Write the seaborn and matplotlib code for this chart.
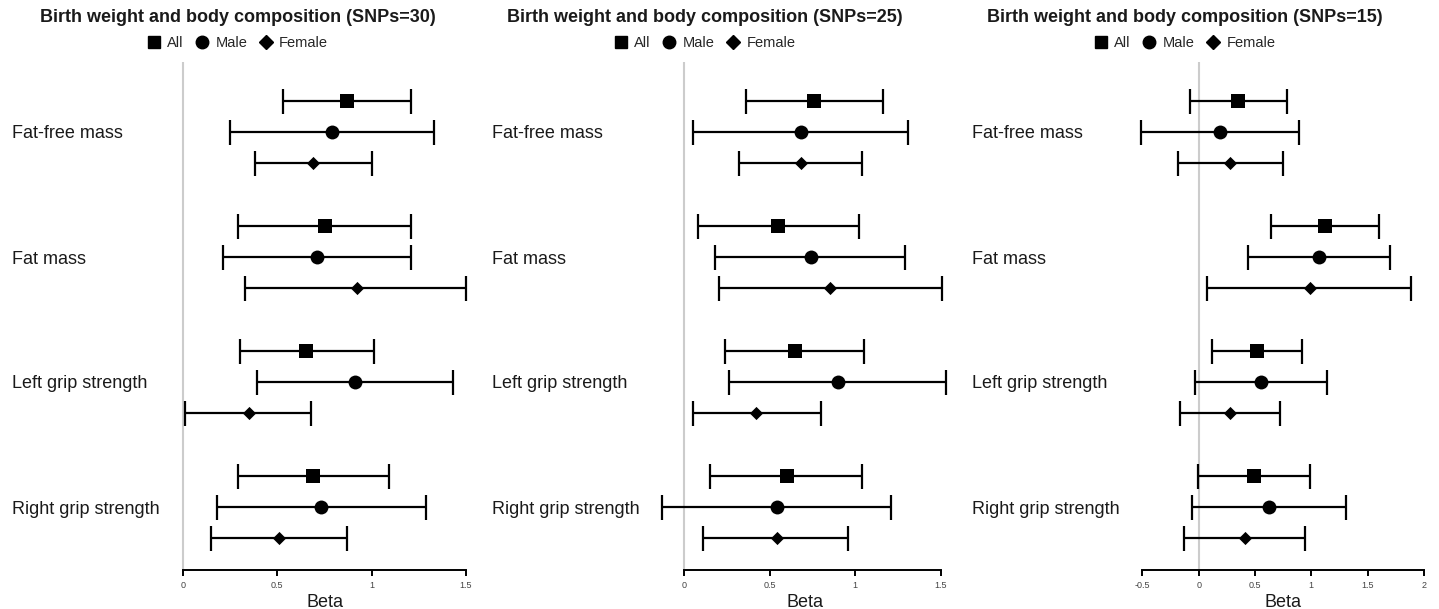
import numpy as np
import pandas as pd
import matplotlib
matplotlib.use("Agg")
import matplotlib.pyplot as plt
from matplotlib.lines import Line2D
import seaborn as sns

sns.set_theme(style="white")
plt.rcParams['font.family'] = ['Liberation Sans', 'DejaVu Sans']

categories = ["Fat-free mass", "Fat mass", "Left grip strength", "Right grip strength"]
groups = ["All", "Male", "Female"]
titles = ["Birth weight and body composition (SNPs=30)",
          "Birth weight and body composition (SNPs=25)",
          "Birth weight and body composition (SNPs=15)"]

# Panel 1 (SNPs=30)
p1_est_all = [0.87, 0.75, 0.65, 0.69]
p1_est_male = [0.79, 0.71, 0.91, 0.73]
p1_est_female = [0.69, 0.92, 0.35, 0.51]
p1_lo_all = [0.53, 0.29, 0.30, 0.29]
p1_lo_male = [0.25, 0.21, 0.39, 0.18]
p1_lo_female = [0.38, 0.33, 0.01, 0.15]
p1_hi_all = [1.21, 1.21, 1.01, 1.09]
p1_hi_male = [1.33, 1.21, 1.43, 1.29]
p1_hi_female = [1.00, 1.50, 0.68, 0.87]

# Panel 2 (SNPs=25)
p2_est_all = [0.76, 0.55, 0.65, 0.60]
p2_est_male = [0.68, 0.74, 0.90, 0.54]
p2_est_female = [0.68, 0.85, 0.42, 0.54]
p2_lo_all = [0.36, 0.08, 0.24, 0.15]
p2_lo_male = [0.05, 0.18, 0.26, -0.13]
p2_lo_female = [0.32, 0.20, 0.05, 0.11]
p2_hi_all = [1.16, 1.02, 1.05, 1.04]
p2_hi_male = [1.31, 1.29, 1.53, 1.21]
p2_hi_female = [1.04, 1.51, 0.80, 0.96]

# Panel 3 (SNPs=15)
p3_est_all = [0.35, 1.12, 0.52, 0.49]
p3_est_male = [0.19, 1.07, 0.55, 0.62]
p3_est_female = [0.28, 0.99, 0.28, 0.41]
p3_lo_all = [-0.08, 0.64, 0.12, -0.01]
p3_lo_male = [-0.51, 0.44, -0.03, -0.06]
p3_lo_female = [-0.18, 0.07, -0.17, -0.13]
p3_hi_all = [0.78, 1.60, 0.92, 0.99]
p3_hi_male = [0.89, 1.70, 1.14, 1.31]
p3_hi_female = [0.75, 1.89, 0.72, 0.94]

p1_ticks = [0, 0.5, 1, 1.5]
p2_ticks = [0, 0.5, 1, 1.5]
p3_ticks = [-0.5, 0, 0.5, 1, 1.5, 2]
tick_labels = {0: "0", 0.5: "0.5", 1: "1", 1.5: "1.5", -0.5: "-0.5", 2: "2"}

panels = [
    dict(est=[p1_est_all, p1_est_male, p1_est_female],
         lo=[p1_lo_all, p1_lo_male, p1_lo_female],
         hi=[p1_hi_all, p1_hi_male, p1_hi_female], ticks=p1_ticks),
    dict(est=[p2_est_all, p2_est_male, p2_est_female],
         lo=[p2_lo_all, p2_lo_male, p2_lo_female],
         hi=[p2_hi_all, p2_hi_male, p2_hi_female], ticks=p2_ticks),
    dict(est=[p3_est_all, p3_est_male, p3_est_female],
         lo=[p3_lo_all, p3_lo_male, p3_lo_female],
         hi=[p3_hi_all, p3_hi_male, p3_hi_female], ticks=p3_ticks),
]

W, H = 1439, 609
fig = plt.figure(figsize=(W / 100, H / 100), dpi=100)

# layout in pixels: (axes_left, axes_right, xlim, label_left, title_center)
layout = [
    (173.6, 475.4, (-0.05, 1.55), 12, 238),
    (658.7, 950.9, (-0.15, 1.56), 492, 705),
    (1136.8, 1429.5, (-0.55, 2.05), 972, 1185),
]
ax_top, ax_bot = 62, 570

offsets = {"All": -0.25, "Male": 0.0, "Female": 0.25}
markers = {"All": "s", "Male": "o", "Female": "D"}
msizes = {"All": 105, "Male": 100, "Female": 45}

for pi, (panel, lay) in enumerate(zip(panels, layout)):
    left, right, xlim, lab_left, tcenter = lay
    ax = fig.add_axes([left / W, (H - ax_bot) / H, (right - left) / W, (ax_bot - ax_top) / H])
    rows = []
    for gi, g in enumerate(groups):
        for ci, c in enumerate(categories):
            rows.append(dict(category=c, group=g, ypos=ci + offsets[g],
                             beta=panel["est"][gi][ci], lo=panel["lo"][gi][ci],
                             hi=panel["hi"][gi][ci]))
    df = pd.DataFrame(rows)
    ax.axvline(0, color="#cccccc", lw=1.5, zorder=0)
    ax.errorbar(df["beta"], df["ypos"],
                xerr=[df["beta"] - df["lo"], df["hi"] - df["beta"]],
                fmt="none", ecolor="black", elinewidth=1.6, capsize=9, capthick=1.6, zorder=2)
    for g in groups:
        sub = df[df["group"] == g]
        sns.scatterplot(data=sub, x="beta", y="ypos", marker=markers[g], s=msizes[g],
                        color="black", edgecolor="black", linewidth=0, ax=ax, zorder=3, legend=False)
    ax.set_xlim(*xlim)
    ax.set_ylim(3.504, -0.56)
    ax.set_yticks(range(len(categories)))
    ax.set_yticklabels(categories, fontsize=13, color="#1a1a1a")
    pad_pt = (left - lab_left) * 0.72
    ax.tick_params(axis="y", length=0, pad=pad_pt)
    for t in ax.get_yticklabels():
        t.set_horizontalalignment("left")
    ax.set_xticks(panel["ticks"])
    ax.set_xticklabels([tick_labels[t] for t in panel["ticks"]], fontsize=6.5, color="#444444")
    ax.tick_params(axis="x", direction="out", length=4, width=1.4, color="black", pad=4,
                   bottom=True)
    for s in ["top", "right", "left"]:
        ax.spines[s].set_visible(False)
    ax.spines["bottom"].set_color("black")
    ax.spines["bottom"].set_linewidth(1.4)
    ax.spines["bottom"].set_bounds(panel["ticks"][0], panel["ticks"][-1])
    ax.set_xlabel("Beta", fontsize=13, labelpad=3, color="#1a1a1a")
    ax.set_ylabel("")
    fig.text(tcenter / W, 1 - 18 / H, titles[pi], ha="center", va="center",
             fontsize=13, fontweight="bold", color="#1a1a1a")
    handles = [Line2D([], [], marker=markers[g], color="black", linestyle="none",
                      markersize=(9 if g != "Female" else 7)) for g in groups]
    fig.legend(handles, groups, loc="center", bbox_to_anchor=(tcenter / W, 1 - 43 / H),
               ncol=3, frameon=False, fontsize=10.5, handlelength=0.8, handletextpad=0.5,
               columnspacing=0.9, borderaxespad=0, borderpad=0)

fig.savefig("out.png", dpi=100)
